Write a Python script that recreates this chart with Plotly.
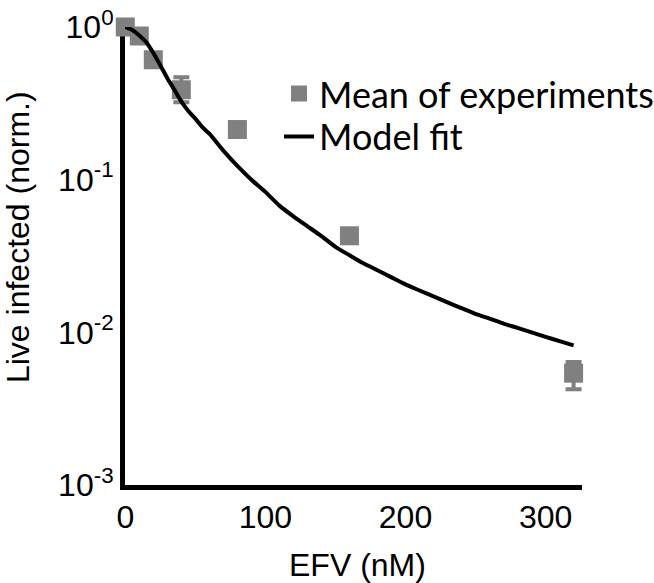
import plotly.graph_objects as go

# Experimental data (mean of experiments)
efv_exp = [0, 10, 20, 40, 80, 160, 320]
live_exp = [1.0, 0.873, 0.61, 0.388, 0.213, 0.0429, 0.0054]
err_plus = [0, 0, 0, 0.080, 0, 0.001, 0.0010]
err_minus = [0, 0, 0, 0.067, 0, 0.001, 0.00116]

# Model fit curve
efv_fit = [0, 5, 10, 15, 20, 25, 30, 35, 40, 45, 50, 55, 60, 70, 80, 90, 100,
           110, 120, 130, 140, 150, 160, 170, 180, 190, 200, 210, 220, 230,
           240, 250, 260, 270, 280, 290, 300, 310, 320]
live_fit = [1.0, 0.955, 0.881, 0.794, 0.676, 0.562, 0.462, 0.389, 0.324, 0.282,
            0.251, 0.221, 0.200, 0.155, 0.123, 0.100, 0.0832, 0.0676, 0.0575,
            0.0495, 0.0427, 0.0363, 0.0320, 0.0283, 0.0255, 0.0229, 0.0206,
            0.0188, 0.0172, 0.0157, 0.0144, 0.0132, 0.0123, 0.0114, 0.0107,
            0.0100, 0.00935, 0.00875, 0.00822]

y_tickvals = [1, 0.1, 0.01, 0.001]
y_ticktext = ["10<sup>0</sup>", "10<sup>-1</sup>", "10<sup>-2</sup>", "10<sup>-3</sup>"]
x_tickvals = [0, 100, 200, 300]
x_ticktext = ["0", "100", "200", "300"]

GRAY = "#808080"
AX_FONT = "Liberation Sans, Arial, sans-serif"
LEG_FONT = dict(family="Lato, Carlito, sans-serif", size=36, color="black")

fig = go.Figure()
fig.add_trace(go.Scatter(
    x=efv_exp, y=live_exp, mode="markers", name="Mean of experiments",
    marker=dict(symbol="square", size=19, color=GRAY),
    error_y=dict(type="data", array=err_plus, arrayminus=err_minus,
                 color=GRAY, thickness=4, width=8, symmetric=False),
    cliponaxis=False, legend="legend",
))
fig.add_trace(go.Scatter(
    x=efv_fit, y=live_fit, mode="lines", name="Model fit",
    line=dict(color="black", width=4, shape="spline", smoothing=0.6),
    cliponaxis=False, legend="legend2",
))

fig.update_layout(
    width=654, height=583,
    margin=dict(l=125, r=72, t=27, b=98, autoexpand=False),
    paper_bgcolor="white", plot_bgcolor="white",
    showlegend=True,
    legend=dict(x=0.337, y=0.920, xanchor="left", yanchor="top",
                bgcolor="rgba(0,0,0,0)", font=LEG_FONT, itemwidth=30),
    legend2=dict(x=0.337, y=0.8264, xanchor="left", yanchor="top",
                 bgcolor="rgba(0,0,0,0)", font=LEG_FONT, itemwidth=30),
    xaxis=dict(range=[-0.2, 326], showgrid=False, zeroline=False,
               showline=True, linecolor="black", linewidth=5,
               ticks="", tickvals=x_tickvals, ticktext=x_ticktext,
               tickfont=dict(family=AX_FONT, size=32, color="black"),
               layer="below traces"),
    yaxis=dict(type="log", range=[-3, 0], showgrid=False, zeroline=False,
               showline=True, linecolor="black", linewidth=5,
               ticks="", tickvals=y_tickvals, ticktext=y_ticktext,
               tickfont=dict(family=AX_FONT, size=32, color="black"),
               layer="below traces"),
    annotations=[
        dict(text="Live infected (norm.)", xref="paper", yref="paper",
             x=-0.234, y=0.5415, xanchor="center", yanchor="middle",
             textangle=-90, showarrow=False,
             font=dict(family=AX_FONT, size=32, color="black")),
        dict(text="EFV (nM)", xref="paper", yref="paper",
             x=0.5077, y=-0.1747, xanchor="center", yanchor="middle",
             showarrow=False,
             font=dict(family=AX_FONT, size=32, color="black")),
    ],
)

fig.write_html(
    "out.html",
    config={"displayModeBar": False},
    post_script="document.body.style.margin='0';document.body.style.overflow='hidden';",
)
